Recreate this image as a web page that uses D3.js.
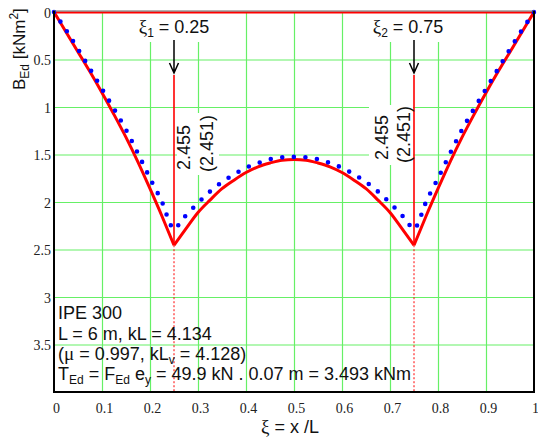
<!DOCTYPE html>
<html>
<head>
<meta charset="utf-8">
<script src="https://cdn.jsdelivr.net/npm/d3@7"></script>
<style>
  body { margin: 0; background: #fff; }
  svg { display: block; font-family: "Liberation Sans", Arial, sans-serif; }
  .ticks text { font-family: "Liberation Serif", "Times New Roman", serif; font-size: 14px; fill: #222; }
</style>
</head>
<body>
<div id="chart"></div>
<script>
const width = 538;
const height = 437;

// ticks
const xTicks = [0, 0.1, 0.2, 0.3, 0.4, 0.5, 0.6, 0.7, 0.8, 0.9, 1];
const yTicks = [0, 0.5, 1, 1.5, 2, 2.5, 3, 3.5];

// bimoment B_Ed (red, exact)
const redXi = [0, 0.025, 0.05, 0.075, 0.1, 0.125, 0.15, 0.175, 0.2, 0.225, 0.25,
  0.275, 0.3, 0.325, 0.35, 0.375, 0.4, 0.425, 0.45, 0.475, 0.5,
  0.525, 0.55, 0.575, 0.6, 0.625, 0.65, 0.675, 0.7, 0.725, 0.75,
  0.775, 0.8, 0.825, 0.85, 0.875, 0.9, 0.925, 0.95, 0.975, 1];
const redB = [0, 0.21, 0.42, 0.63, 0.85, 1.08, 1.32, 1.58, 1.86, 2.15, 2.455,
  2.28, 2.11, 1.98, 1.86, 1.77, 1.69, 1.63, 1.59, 1.56, 1.553,
  1.56, 1.59, 1.63, 1.69, 1.77, 1.86, 1.98, 2.11, 2.28, 2.455,
  2.15, 1.86, 1.58, 1.32, 1.08, 0.85, 0.63, 0.42, 0.21, 0];

// approximate solution (blue dotted)
const blueXi = [0, 0.025, 0.05, 0.075, 0.1, 0.125, 0.15, 0.175, 0.2, 0.225, 0.2375, 0.25, 0.2625,
  0.275, 0.3, 0.325, 0.35, 0.375, 0.4, 0.425, 0.45, 0.475, 0.5,
  0.525, 0.55, 0.575, 0.6, 0.625, 0.65, 0.675, 0.7, 0.725,
  0.7375, 0.75, 0.7625, 0.775, 0.8, 0.825, 0.85, 0.875, 0.9, 0.925, 0.95, 0.975, 1];
const blueB = [0, 0.19, 0.39, 0.60, 0.81, 1.02, 1.24, 1.49, 1.75, 2.00, 2.17, 2.29, 2.22,
  2.14, 2.01, 1.89, 1.79, 1.71, 1.64, 1.59, 1.55, 1.53, 1.525,
  1.53, 1.55, 1.59, 1.64, 1.71, 1.79, 1.89, 2.01, 2.14,
  2.22, 2.29, 2.17, 2.00, 1.75, 1.49, 1.24, 1.02, 0.81, 0.60, 0.39, 0.19, 0];

// load positions and their labels
const loadXi = [0.25, 0.75];
const loadIndex = ["1", "2"];
const loadValue = ["= 0.25", "= 0.75"];
const peakLabel = ["2.455", "2.455"];
const altLabel = ["(2.451)", "(2.451)"];

// info block: [text, kind]
const infoLines = [
  [["IPE 300"]],
  [["L = 6 m, kL = 4.134"]],
  [["("], ["\u03bc", "greek"], [" = 0.997, kL"], ["v", "sub"], [" = 4.128)"]],
  [["T"], ["Ed", "sub"], [" = F"], ["Ed", "sub"], [" e"], ["y", "sub"], [" = 49.9 kN . 0.07 m = 3.493 kNm"]]
];

const x = d3.scaleLinear().domain([0, 1]).range([54, 534]);
const y = d3.scaleLinear().domain([0, 4]).range([12, 392]);

const svg = d3.select("#chart").append("svg")
  .attr("width", width)
  .attr("height", height);

// grid
svg.append("g")
  .attr("transform", `translate(0,${y(4)})`)
  .call(d3.axisBottom(x).tickValues(xTicks.slice(1, -1)).tickSize(-(y(4) - y(0))).tickFormat(""))
  .call(g => g.select(".domain").remove())
  .call(g => g.selectAll("line").attr("stroke", "#66f066").attr("stroke-width", 1.2));
svg.append("g")
  .attr("transform", `translate(${x(0)},0)`)
  .call(d3.axisLeft(y).tickValues([0.5, 1, 1.5, 2, 2.5, 3, 3.5]).tickSize(-(x(1) - x(0))).tickFormat(""))
  .call(g => g.select(".domain").remove())
  .call(g => g.selectAll("line").attr("stroke", "#66f066").attr("stroke-width", 1.2));

// white patches behind the load labels
const labelShift = [0, -6];
loadXi.forEach((xi, i) => {
  const cx = x(xi) + labelShift[i];
  svg.append("rect").attr("x", cx - 37).attr("y", 13).attr("width", 74).attr("height", 29).attr("fill", "#fff");
});
const rotBox = [[3, 45, 113, 62], [-45, -1, 105, 60]];
loadXi.forEach((xi, i) => {
  const b = rotBox[i];
  svg.append("rect").attr("x", x(xi) + b[0]).attr("y", b[2]).attr("width", b[1] - b[0]).attr("height", b[3]).attr("fill", "#fff");
});

// zero line
svg.append("line")
  .attr("x1", x(0)).attr("x2", x(1)).attr("y1", y(0) + 0.5).attr("y2", y(0) + 0.5)
  .attr("stroke", "red").attr("stroke-width", 2);

// dotted drops below peaks, solid marker lines above
loadXi.forEach((xi, i) => {
  svg.append("line")
    .attr("x1", x(xi)).attr("x2", x(xi)).attr("y1", y(2.455)).attr("y2", y(4))
    .attr("stroke", "red").attr("stroke-width", 1).attr("stroke-dasharray", "2,2");
  svg.append("line")
    .attr("x1", x(xi)).attr("x2", x(xi)).attr("y1", 75).attr("y2", y(2.455))
    .attr("stroke", "red").attr("stroke-width", 1.6);
});

// red curve, in three pieces so the kinks stay sharp
const line = d3.line().x(d => x(d[0])).y(d => y(d[1])).curve(d3.curveMonotoneX);
const pieces = [[0, 0.25], [0.25, 0.75], [0.75, 1]];
const redPts = redXi.map((xi, i) => [xi, redB[i]]);
pieces.forEach(([a, b]) => {
  svg.append("path")
    .datum(redPts.filter(p => p[0] >= a - 1e-9 && p[0] <= b + 1e-9))
    .attr("fill", "none").attr("stroke", "red").attr("stroke-width", 3)
    .attr("stroke-linejoin", "round")
    .attr("d", line);
});

// blue dotted curve
svg.append("path")
  .datum(blueXi.map((xi, i) => [xi, blueB[i]]))
  .attr("fill", "none").attr("stroke", "#0000ff").attr("stroke-width", 4.6)
  .attr("stroke-linecap", "round").attr("stroke-dasharray", "0 11.6")
  .attr("d", d3.line().x(d => x(d[0])).y(d => y(d[1])).curve(d3.curveCatmullRom));

// arrows and labels at the loads
loadXi.forEach((xi, i) => {
  const px = x(xi);
  svg.append("path")
    .attr("d", `M${px},40V73M${px - 4.5},63L${px},73L${px + 4.5},63`)
    .attr("fill", "none").attr("stroke", "#000").attr("stroke-width", 1.5);

  const t = svg.append("text")
    .attr("x", px + labelShift[i]).attr("y", 33)
    .attr("text-anchor", "middle").attr("font-size", 18).attr("fill", "#111");
  t.append("tspan").text("\u03be").attr("font-family", "Liberation Serif, serif").attr("font-size", 19);
  t.append("tspan").text(loadIndex[i]).attr("font-size", 12).attr("dy", 4);
  t.append("tspan").text(" " + loadValue[i]).attr("dy", -4);
});

const rotPos = [[[16, 170], [39, 172]], [[-26, 160], [-4, 163]]];
loadXi.forEach((xi, i) => {
  const px = x(xi);
  [peakLabel[i], altLabel[i]].forEach((s, k) => {
    const [dx, yy] = rotPos[i][k];
    svg.append("text")
      .attr("transform", `translate(${px + dx},${yy}) rotate(-90)`)
      .attr("font-size", 18).attr("fill", "#111")
      .text(s);
  });
});

// info block
infoLines.forEach((parts, li) => {
  const t = svg.append("text")
    .attr("x", 58).attr("y", [319, 340, 360, 380][li])
    .attr("font-size", 18).attr("fill", "#111");
  let shifted = false;
  parts.forEach(([s, kind]) => {
    const ts = t.append("tspan").text(s);
    if (kind === "sub") {
      ts.attr("font-size", 12).attr("dy", shifted ? 0 : 4);
      shifted = true;
    } else {
      if (shifted) ts.attr("dy", -4);
      shifted = false;
      if (kind === "greek") ts.attr("font-family", "Liberation Serif, serif").attr("font-size", 19);
    }
  });
});

// axes tick labels
svg.append("g")
  .attr("class", "ticks")
  .attr("transform", `translate(0,${y(4)})`)
  .call(d3.axisBottom(x).tickValues(xTicks).tickSize(0).tickFormat(d3.format("")))
  .call(g => g.select(".domain").remove())
  .call(g => g.selectAll("text").attr("y", 20.5).attr("dy", 0).attr("dx", d => d === 1 ? 1 : 2));
svg.append("g")
  .attr("class", "ticks")
  .attr("transform", `translate(${x(0)},0)`)
  .call(d3.axisLeft(y).tickValues(yTicks).tickSize(0).tickFormat(d3.format("")))
  .call(g => g.select(".domain").remove())
  .call(g => g.selectAll("text").attr("x", -3).attr("dy", 5));

// frame
svg.append("line").attr("x1", x(0)).attr("x2", x(1)).attr("y1", 11).attr("y2", 11).attr("stroke", "#666").attr("stroke-width", 1);
svg.append("path")
  .attr("d", `M${x(0)},11V${y(4)}H${x(1)}V11`)
  .attr("fill", "none").attr("stroke", "#000").attr("stroke-width", 2);

// axis titles
const yt = svg.append("text")
  .attr("transform", "translate(25,90) rotate(-90)")
  .attr("font-size", 17).attr("fill", "#111");
yt.append("tspan").text("B");
yt.append("tspan").text("Ed").attr("font-size", 12).attr("dy", 4);
yt.append("tspan").text(" [kNm").attr("dy", -4);
yt.append("tspan").text("2").attr("font-size", 12).attr("dy", -7);
yt.append("tspan").text("]").attr("dy", 7);

const xt = svg.append("text")
  .attr("x", 290).attr("y", 433)
  .attr("text-anchor", "middle").attr("font-size", 18).attr("fill", "#111");
xt.append("tspan").text("\u03be").attr("font-family", "Liberation Serif, serif").attr("font-size", 19);
xt.append("tspan").text(" = x /L");
</script>
</body>
</html>
